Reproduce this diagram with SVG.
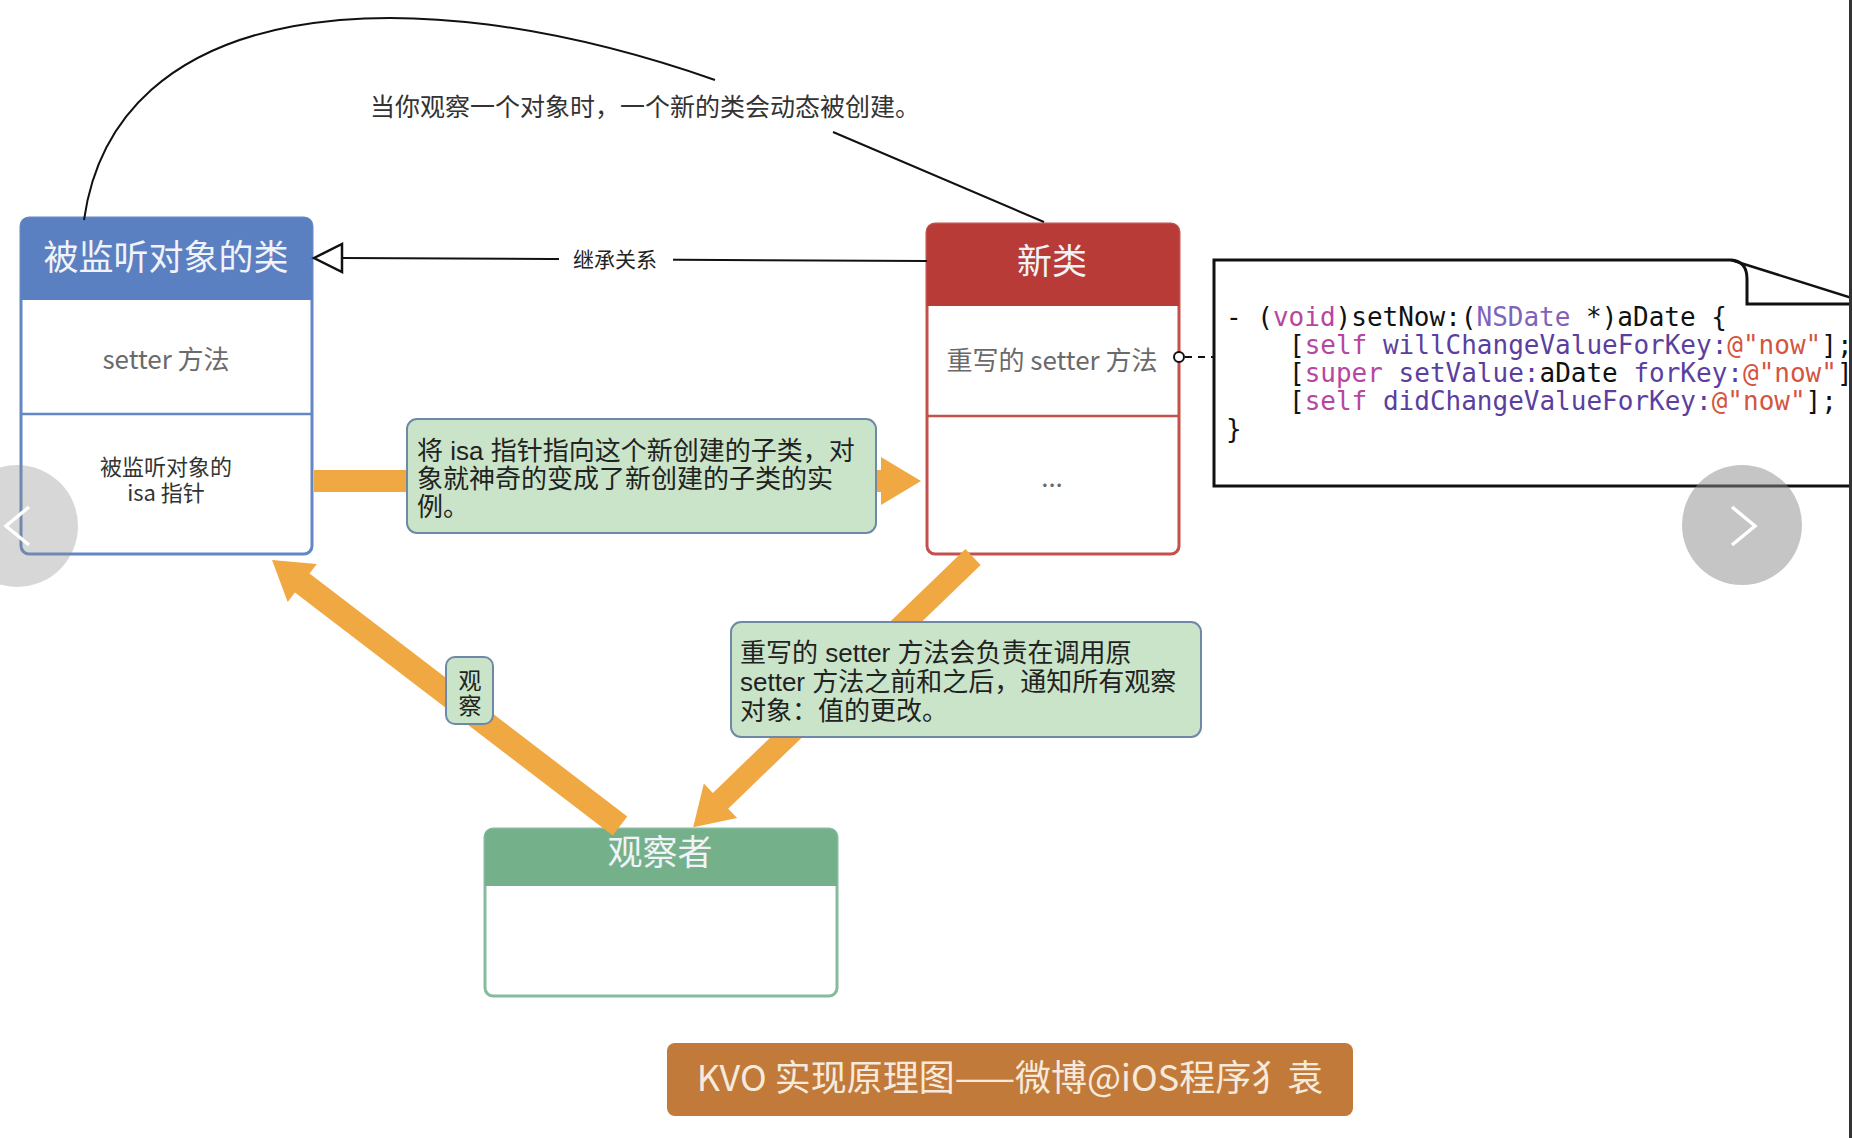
<svg xmlns="http://www.w3.org/2000/svg" width="1852" height="1138" viewBox="0 0 1852 1138">
<style>
.cjk{font-family:"Liberation Sans","Noto Sans CJK SC",sans-serif}
.ui{font-family:"Noto Sans CJK SC","Noto Sans",sans-serif}
.hdr{font-size:35px;fill:#f1f3f8;text-anchor:middle}
.body{font-size:26px;fill:#6a6a6a;text-anchor:middle}
.note{font-size:26px;fill:#222}
.code{font-family:"DejaVu Sans Mono","Liberation Mono",monospace;font-size:26px;fill:#111}
.kw{fill:#b8469f}.ty{fill:#7f63bb}.me{fill:#5b3fa0}.st{fill:#d4553f}
.notebox{fill:#c9e4c8;stroke:#7088a8;stroke-width:2}
.arrow{fill:#f0a842}
.thin{fill:none;stroke:#111;stroke-width:2}
</style>
<rect width="1852" height="1138" fill="#fff"/>

<g id="node-observed-class">
  <rect x="21" y="218" width="291" height="336" rx="8" fill="#fff" stroke="#6287c4" stroke-width="3"/>
  <path d="M21,300 V226 Q21,218 29,218 H304 Q312,218 312,226 V300 Z" fill="#5b80c1"/>
  <line x1="21" y1="414" x2="312" y2="414" stroke="#6287c4" stroke-width="2.5"/>
  <text class="ui hdr" x="166" y="270">被监听对象的类</text>
  <text class="ui body" x="166" y="369">setter 方法</text>
  <text class="ui" font-size="22" fill="#333" text-anchor="middle"><tspan x="166" y="475">被监听对象的</tspan><tspan x="166" y="501">isa 指针</tspan></text>
</g>

<g id="node-new-class">
  <rect x="927" y="224" width="252" height="330" rx="8" fill="#fff" stroke="#c4504c" stroke-width="3"/>
  <path d="M927,306 V232 Q927,224 935,224 H1171 Q1179,224 1179,232 V306 Z" fill="#b83b37"/>
  <line x1="927" y1="416" x2="1179" y2="416" stroke="#c4504c" stroke-width="2.5"/>
  <text class="ui hdr" x="1052" y="274" fill="#f6e8e6">新类</text>
  <text class="ui body" x="1052" y="370">重写的 setter 方法</text>
  <text class="ui body" x="1052" y="487">...</text>
</g>

<g id="node-observer">
  <rect x="485" y="829" width="352" height="167" rx="8" fill="#fff" stroke="#86bc9d" stroke-width="3"/>
  <path d="M485,886 V837 Q485,829 493,829 H829 Q837,829 837,837 V886 Z" fill="#74b18b"/>
  <text class="ui hdr" x="660" y="865">观察者</text>
</g>

<g id="node-code">
  <path d="M1852,486 H1214 V260 H1731 Q1747,261 1747,279 V304 H1852" fill="#fff" stroke="#111" stroke-width="3"/>
  <path d="M1731,260 L1852,298" fill="none" stroke="#111" stroke-width="2.5"/>
  <text class="code" xml:space="preserve" x="1226" y="326">- (<tspan class="kw">void</tspan>)setNow:(<tspan class="ty">NSDate</tspan> *)aDate {</text>
  <text class="code" xml:space="preserve" x="1289" y="354">[<tspan class="kw">self</tspan> <tspan class="me">willChangeValueForKey:</tspan><tspan class="st">@"now"</tspan>];</text>
  <text class="code" xml:space="preserve" x="1289" y="382">[<tspan class="kw">super</tspan> <tspan class="me">setValue:</tspan>aDate <tspan class="me">forKey:</tspan><tspan class="st">@"now"</tspan>];</text>
  <text class="code" xml:space="preserve" x="1289" y="410">[<tspan class="kw">self</tspan> <tspan class="me">didChangeValueForKey:</tspan><tspan class="st">@"now"</tspan>];</text>
  <text class="code" x="1226" y="438">}</text>
</g>

<g id="connectors">
  <path class="thin" d="M84,220 C115,0 400,-30 715,80"/>
  <line class="thin" x1="833" y1="132" x2="1044" y2="222"/>
  <text class="cjk" x="370" y="116" font-size="25" fill="#333">当你观察一个对象时，一个新的类会动态被创建。</text>
  <line class="thin" x1="342" y1="258" x2="927" y2="261"/>
  <path d="M314,258 L342,244 L342,272 Z" fill="#fff" stroke="#111" stroke-width="2.5"/>
  <rect x="559" y="246" width="114" height="28" fill="#fff"/>
  <text class="cjk" x="615" y="267" font-size="21" fill="#222" text-anchor="middle">继承关系</text>
  <line x1="1185" y1="357" x2="1214" y2="357" stroke="#111" stroke-width="2" stroke-dasharray="7,6"/>
  <circle cx="1179" cy="357" r="5" fill="#fff" stroke="#111" stroke-width="2"/>
  <path class="arrow" transform="translate(314,481)" d="M0,-11 H567 V-24 L607,0 L567,24 V11 H0 Z"/>
  <path class="arrow" transform="translate(973,557) rotate(136)" d="M0,-11 H351 V-24 L389,0 L351,24 V11 H0 Z"/>
  <path class="arrow" transform="translate(620,826) rotate(-142.6)" d="M0,-12 H400 V-24 L438,0 L400,24 V12 H0 Z"/>
</g>

<g id="note-isa">
  <rect class="notebox" x="407" y="419" width="469" height="114" rx="10"/>
  <text class="cjk note" x="417" y="460">将 isa 指针指向这个新创建的子类，对</text>
  <text class="cjk note" x="417" y="488">象就神奇的变成了新创建的子类的实</text>
  <text class="cjk note" x="417" y="516">例。</text>
</g>

<g id="note-setter">
  <rect class="notebox" x="731" y="622" width="470" height="115" rx="10"/>
  <text class="cjk note" x="740" y="662">重写的 setter 方法会负责在调用原</text>
  <text class="cjk note" x="740" y="691">setter 方法之前和之后，通知所有观察</text>
  <text class="cjk note" x="740" y="720">对象：值的更改。</text>
</g>

<g id="note-observe">
  <rect class="notebox" x="446" y="657" width="47" height="67" rx="9"/>
  <text class="cjk" x="470" y="689" font-size="23" fill="#222" text-anchor="middle">观</text>
  <text class="cjk" x="470" y="714" font-size="23" fill="#222" text-anchor="middle">察</text>
</g>

<g id="footer">
  <rect x="667" y="1043" width="686" height="73" rx="8" fill="#c27a3a"/>
  <text class="ui" x="1010" y="1091" font-size="36" fill="#f6eadc" text-anchor="middle">KVO 实现原理图——微博@iOS程序犭袁</text>
</g>

<g id="nav">
  <circle cx="17" cy="526" r="61" fill="#8c8c8c" fill-opacity="0.35"/>
  <polyline points="29,507 6,526 29,545" fill="none" stroke="#fff" stroke-width="3.5"/>
  <circle cx="1742" cy="525" r="60" fill="#8c8c8c" fill-opacity="0.5"/>
  <polyline points="1732,507 1755,526 1732,545" fill="none" stroke="#fff" stroke-width="3.5"/>
</g>
<line x1="1850.5" y1="0" x2="1850.5" y2="1138" stroke="#333" stroke-width="3"/>
</svg>
